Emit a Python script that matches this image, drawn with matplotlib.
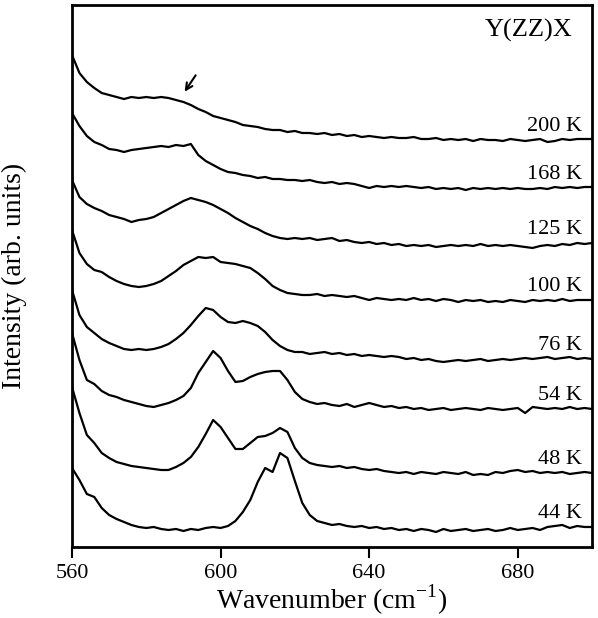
import numpy as np
import matplotlib
matplotlib.use("Agg")
import matplotlib.pyplot as plt

plt.rcParams["font.family"] = ["Liberation Serif", "DejaVu Serif"]
plt.rcParams["mathtext.fontset"] = "custom"
plt.rcParams["mathtext.rm"] = "Liberation Serif"

# Raman spectra, Y(ZZ)X geometry; wavenumber sampled every 2 cm-1
wavenumber = np.arange(560, 701, 2)

temps = ["200 K", "168 K", "125 K", "100 K", "76 K", "54 K", "48 K", "44 K"]

i_200 = [492, 474, 465, 459, 454, 452, 450, 448, 450, 449, 450, 449, 450, 449, 447, 445,
         442, 438, 435, 431, 429, 427, 425, 422, 421, 420, 418, 417, 417, 415, 416, 414,
         414, 413, 414, 412, 413, 411, 412, 410, 411, 410, 409, 410, 409, 409, 410, 408,
         408, 409, 407, 408, 407, 408, 406, 408, 407, 407, 406, 408, 407, 406, 407, 408,
         405, 406, 408, 407, 408, 408, 408]
i_168 = [434, 421, 411, 405, 402, 398, 397, 395, 397, 398, 399, 400, 401, 400, 402, 401,
         403, 392, 386, 382, 378, 375, 374, 372, 371, 369, 370, 368, 368, 367, 367, 366,
         367, 365, 364, 365, 363, 364, 363, 361, 359, 361, 360, 361, 360, 361, 360, 359,
         360, 358, 359, 358, 359, 357, 359, 358, 359, 358, 359, 358, 359, 358, 358, 359,
         358, 360, 359, 360, 359, 360, 360]
i_125 = [367, 350, 343, 339, 336, 332, 330, 328, 325, 327, 328, 330, 334, 338, 342, 346,
         349, 347, 345, 342, 338, 334, 329, 325, 321, 318, 314, 311, 309, 308, 309, 308,
         309, 307, 308, 309, 306, 307, 305, 304, 305, 303, 304, 302, 303, 301, 302, 301,
         302, 300, 301, 302, 301, 302, 301, 303, 301, 302, 301, 302, 301, 300, 299, 301,
         302, 301, 303, 302, 304, 303, 304]
i_100 = [317, 294, 283, 277, 275, 270, 266, 263, 261, 260, 261, 263, 266, 271, 276, 282,
         286, 290, 289, 290, 285, 284, 283, 281, 279, 274, 268, 261, 257, 254, 253, 252,
         252, 253, 251, 252, 251, 250, 251, 249, 247, 249, 248, 247, 248, 247, 249, 247,
         248, 246, 248, 247, 245, 247, 246, 247, 245, 246, 245, 247, 246, 245, 247, 246,
         247, 246, 248, 246, 247, 247, 247]
i_76 = [257, 232, 220, 214, 208, 204, 201, 198, 197, 198, 197, 198, 200, 203, 208, 214,
        222, 231, 239, 237, 230, 225, 224, 226, 224, 221, 215, 207, 201, 197, 195, 195,
        193, 194, 195, 193, 194, 192, 193, 191, 192, 191, 190, 191, 190, 188, 189, 187,
        188, 186, 185, 186, 187, 186, 187, 188, 186, 187, 188, 187, 188, 189, 188, 189,
        190, 188, 189, 190, 188, 189, 188]
i_54 = [214, 187, 167, 163, 156, 152, 150, 147, 145, 143, 141, 140, 142, 144, 147, 151,
        159, 174, 185, 196, 189, 176, 165, 166, 170, 173, 175, 176, 176, 167, 155, 148,
        145, 143, 144, 142, 141, 143, 140, 142, 144, 142, 140, 141, 139, 140, 138, 139,
        137, 138, 139, 137, 138, 139, 138, 137, 139, 138, 137, 138, 139, 134, 140, 139,
        138, 139, 138, 140, 138, 139, 138]
i_48 = [160, 134, 112, 104, 94, 89, 85, 83, 81, 80, 79, 78, 77, 77, 80, 84,
        90, 100, 113, 127, 120, 109, 98, 98, 104, 110, 111, 114, 119, 115, 99, 89,
        84, 82, 81, 80, 81, 79, 80, 78, 77, 78, 76, 75, 74, 75, 73, 75,
        74, 73, 75, 74, 73, 75, 72, 73, 72, 75, 74, 76, 77, 75, 76, 74,
        75, 74, 75, 73, 74, 75, 74]
i_44 = [79, 67, 53, 50, 39, 32, 28, 25, 22, 20, 19, 20, 18, 17, 18, 16,
        18, 17, 19, 20, 19, 21, 26, 35, 47, 65, 79, 75, 94, 89, 66, 44,
        32, 26, 24, 22, 23, 21, 20, 21, 19, 20, 18, 19, 17, 18, 16, 18,
        17, 15, 18, 16, 17, 18, 16, 17, 18, 16, 17, 19, 17, 18, 19, 17,
        20, 21, 22, 19, 21, 20, 20]

spectra = [i_200, i_168, i_125, i_100, i_76, i_54, i_48, i_44]

fig = plt.figure(figsize=(5.98, 6.18), dpi=100)
ax = fig.add_axes([0.1204, 0.1149, 0.8696, 0.877])

for label, spec in zip(temps, spectra):
    ax.plot(wavenumber, spec, color="black", linewidth=1.6)
    ax.text(697.4, spec[-1] + 13, label, ha="right", va="center", fontsize=16)

# arrow marking the weak feature in the 200 K spectrum
ax.annotate("", xy=(589.9, 453), xytext=(593.7, 474),
            arrowprops=dict(arrowstyle="->", color="black", lw=1.5,
                            mutation_scale=12))

ax.text(694.7, 517, "Y(ZZ)X", ha="right", va="center", fontsize=19)

ax.set_xlim(560, 700)
ax.set_ylim(0, 542)
ax.set_xticks([560, 600, 640, 680])
ax.set_yticks([])
ax.tick_params(axis="x", direction="out", length=8, width=1.5, pad=4, labelsize=16)
for s in ax.spines.values():
    s.set_linewidth(2)

ax.set_xlabel(r"Wavenumber (cm$^{\mathregular{-1}}$)", fontsize=20, labelpad=0)
ax.set_ylabel("Intensity (arb. units)", fontsize=20)
ax.yaxis.set_label_coords(-0.087, 0.5)

fig.savefig("out.png", dpi=100)
